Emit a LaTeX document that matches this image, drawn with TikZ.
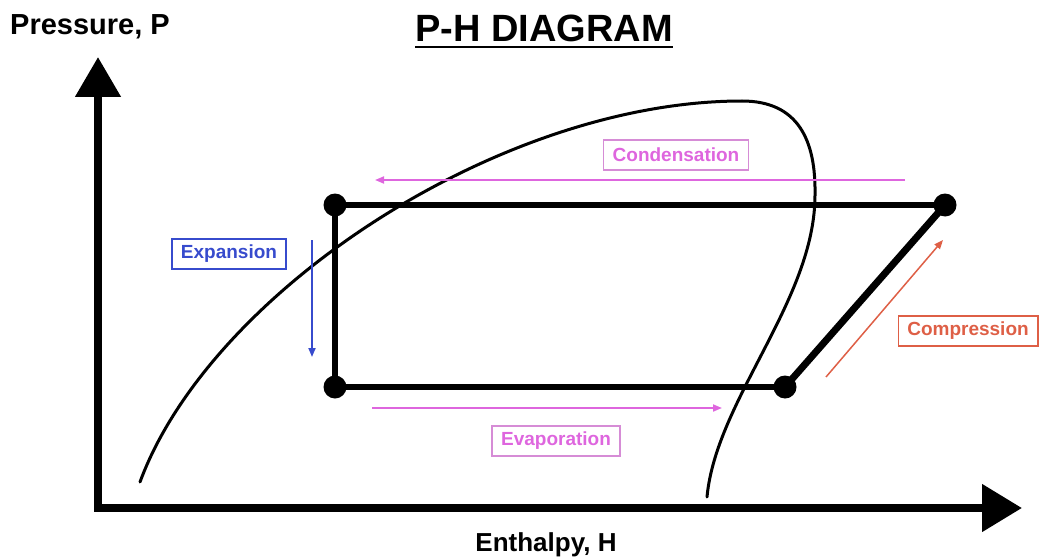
\documentclass[tikz,border=0pt]{standalone}
\usepackage{fontspec}
\setmainfont{Liberation Sans}
\usetikzlibrary{arrows.meta}
\definecolor{magC}{RGB}{222,102,222}
\definecolor{magB}{RGB}{214,140,214}
\definecolor{bluC}{RGB}{55,75,205}
\definecolor{redC}{RGB}{222,95,70}
\begin{document}
\begin{tikzpicture}[x=1pt,y=-1pt,
  dot/.style={circle,fill=black,inner sep=0pt,minimum size=23pt},
  cycleline/.style={line width=6pt},
  axisline/.style={line width=8pt,{Triangle[length=40pt,width=44pt]}-{Triangle[length=40pt,width=46pt]}},
  flow/.style={line width=1.8pt,-{Triangle[length=9pt,width=7pt]}},
  labelbox/.style={draw,line width=1.6pt,font=\fontsize{19}{21}\bfseries\selectfont,inner xsep=9pt,minimum height=30pt},
  bigtext/.style={font=\fontsize{29}{32}\bfseries\selectfont,inner sep=0pt}
]
\useasboundingbox (0,0) rectangle (1040,559);

% axes
\coordinate (ytip) at (98,57);
\coordinate (origin) at (98,508);
\coordinate (xtip) at (1022,508);
\draw[axisline] (ytip) -- (origin) -- (xtip);

% labels
\node[bigtext,anchor=west] (plabel) at (10,27) {Pressure, P};
\node[font=\fontsize{26}{30}\bfseries\selectfont,inner sep=0pt,anchor=base] (hlabel) at (546,551) {Enthalpy, H};
\node[font=\fontsize{38}{42}\bfseries\selectfont,inner sep=0pt,anchor=base] (title) at (544,42) {P-H DIAGRAM};
\draw[line width=2.5pt] ([yshift=-5pt]title.base west) -- ([yshift=-5pt]title.base east);

% saturation dome
\coordinate (d0) at (140,482);
\coordinate (dtop) at (742,101);
\coordinate (dright) at (815,195);
\coordinate (d1) at (707,497);
\draw[line width=3pt,line cap=round]
  (d0) .. controls (210,292) and (500,101) .. (dtop)
       .. controls (798,101) and (816,140) .. (dright)
       .. controls (815,300) and (716,400) .. (d1);

% cycle
\node[dot] (A) at (335,205) {};
\node[dot] (B) at (945,205) {};
\node[dot] (C) at (785,387) {};
\node[dot] (D) at (335,387) {};
\draw[cycleline] (A.center) -- (B.center);
\draw[cycleline,line width=7pt] (B.center) -- (C.center);
\draw[cycleline] (C.center) -- (D.center);
\draw[cycleline] (D.center) -- (A.center);

% process arrows
\coordinate (cs) at (905,180); \coordinate (ce) at (375,180);
\draw[flow,magC] (cs) -- (ce);
\coordinate (es) at (312,240); \coordinate (ee) at (312,357);
\draw[flow,bluC] (es) -- (ee);
\coordinate (vs) at (372,408); \coordinate (ve) at (722,408);
\draw[flow,magC] (vs) -- (ve);
\coordinate (ps) at (826,377); \coordinate (pe) at (943,240);
\draw[flow,redC,line width=1.5pt] (ps) -- (pe);

% process labels
\node[labelbox,draw=magB,text=magC] (cond) at (676,155) {Condensation};
\node[labelbox,draw=bluC,text=bluC] (expn) at (229,254) {Expansion};
\node[labelbox,draw=magB,text=magC] (evap) at (556,441) {Evaporation};
\node[labelbox,draw=redC,text=redC] (comp) at (968,331) {Compression};
\end{tikzpicture}
\end{document}
